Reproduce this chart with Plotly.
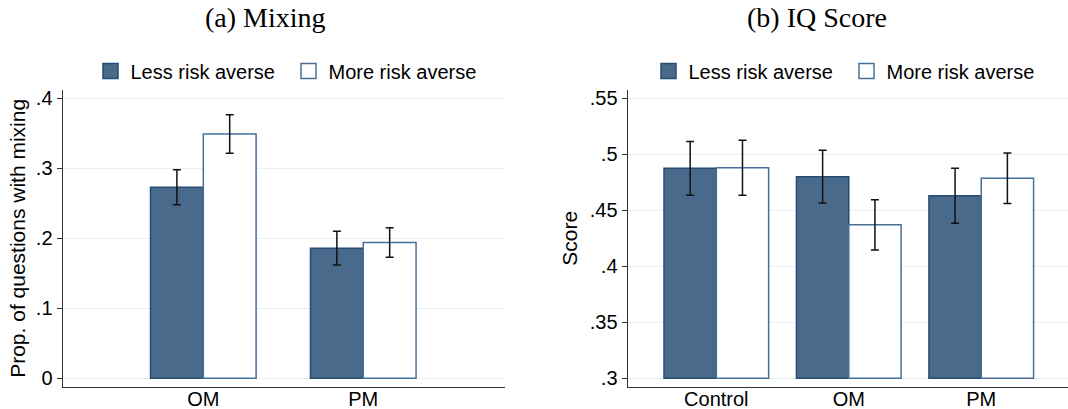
import plotly.graph_objects as go

# ---- Panel (a): share of questions answered with mixing ----
categories_a = ["OM", "PM"]
less_a = [0.273, 0.186]
less_a_err = [0.025, 0.024]
more_a = [0.349, 0.194]
more_a_err = [0.0275, 0.021]

# ---- Panel (b): IQ score ----
categories_b = ["Control", "OM", "PM"]
less_b = [0.4875, 0.480, 0.463]
less_b_err = [0.024, 0.0235, 0.0245]
more_b = [0.488, 0.437, 0.4786]
more_b_err = [0.0245, 0.0225, 0.0225]

base_a = 0.0
base_b = 0.3

series_names = ["Less risk averse", "More risk averse"]

DARK_FILL = "#4a6a8b"
DARK_LINE = "#244d75"
LIGHT_LINE = "#46709a"
GRID = "#e6eff1"
AXIS = "#333333"
SANS = "Liberation Sans, Arial, sans-serif"
SERIF = "Liberation Serif, Times New Roman, serif"

W = 1068
H = 409

fig = go.Figure()

styles = [
    dict(fill=DARK_FILL, line=DARK_LINE),
    dict(fill="white", line=LIGHT_LINE),
]


def add_pair(cats, less, less_err, more, more_err, base, width, xa, ya, legend):
    for k, (vals, errs, off) in enumerate([(less, less_err, -width), (more, more_err, 0)]):
        st = styles[k]
        fig.add_trace(go.Bar(
            x=cats, y=[v - base for v in vals], base=base,
            width=width, offset=off,
            name=series_names[k], showlegend=False,
            marker=dict(color=st["fill"], line=dict(color=st["line"], width=1.5)),
            error_y=dict(type="data", array=errs, color="#111111", thickness=1.5, width=4),
            xaxis=xa, yaxis=ya,
        ))
    # legend keys drawn as square markers
    for k in range(2):
        st = styles[k]
        fig.add_trace(go.Scatter(
            x=[None], y=[None], mode="markers", name=series_names[k], legend=legend,
            marker=dict(symbol="square", size=15, color=st["fill"],
                        line=dict(color=st["line"], width=1.5)),
            xaxis=xa, yaxis=ya, hoverinfo="skip",
        ))


add_pair(categories_a, less_a, less_a_err, more_a, more_a_err, base_a, 0.33, "x", "y", "legend")
add_pair(categories_b, less_b, less_b_err, more_b, more_b_err, base_b, 0.395, "x2", "y2", "legend2")


def px_x(p):
    return p / W


def px_y(p):
    return 1 - p / H


y_dom = [px_y(386.7), px_y(90)]

common_x = dict(
    showline=True, linecolor=AXIS, linewidth=1.3, ticks="", showgrid=False,
    tickfont=dict(family=SANS, size=20, color="black"), zeroline=False,
    fixedrange=True, automargin=False, ticklabelstandoff=-6,
)
common_y = dict(
    showline=True, linecolor=AXIS, linewidth=1.3, ticks="outside", ticklen=5,
    tickcolor=AXIS, tickwidth=1.3, showgrid=True, gridcolor=GRID, gridwidth=1,
    tickfont=dict(family=SANS, size=20, color="black"), zeroline=False,
    fixedrange=True, automargin=False,
)

legend_common = dict(
    orientation="h", xanchor="left", yanchor="middle", y=px_y(71),
    font=dict(family=SANS, size=20, color="black"), bgcolor="rgba(0,0,0,0)",
    itemclick=False, itemdoubleclick=False, entrywidth=153, entrywidthmode="pixels",
)

fig.update_layout(
    width=W, height=H,
    margin=dict(l=0, r=0, t=0, b=0),
    paper_bgcolor="white", plot_bgcolor="white",
    barmode="overlay",
    font=dict(family=SANS, size=20, color="black"),
    xaxis=dict(common_x, domain=[px_x(62.7), px_x(505)], range=[-0.879, 1.886], anchor="y"),
    yaxis=dict(common_y, domain=y_dom, range=[-0.012, 0.412], anchor="x",
               tickvals=[0, 0.1, 0.2, 0.3, 0.4], ticktext=["0", ".1", ".2", ".3", ".4"],
               title=dict(text="Prop. of questions with mixing", standoff=4,
                          font=dict(family=SANS, size=21, color="black"))),
    xaxis2=dict(common_x, domain=[px_x(627.7), 1.0], range=[-0.669, 2.655], anchor="y2"),
    yaxis2=dict(common_y, domain=y_dom, range=[0.2925, 0.5574], anchor="x2",
                tickvals=[0.3, 0.35, 0.4, 0.45, 0.5, 0.55],
                ticktext=[".3", ".35", ".4", ".45", ".5", ".55"],
                title=dict(text="Score", standoff=6,
                           font=dict(family=SANS, size=21, color="black"))),
    legend=dict(legend_common, x=px_x(90.5)),
    legend2=dict(legend_common, x=px_x(648.5)),
    annotations=[
        dict(text="(a) Mixing", x=px_x(265.5), y=px_y(18), xref="paper", yref="paper",
             xanchor="center", yanchor="middle", showarrow=False,
             font=dict(family=SERIF, size=28, color="black")),
        dict(text="(b) IQ Score", x=px_x(817), y=px_y(18), xref="paper", yref="paper",
             xanchor="center", yanchor="middle", showarrow=False,
             font=dict(family=SERIF, size=28, color="black")),
    ],
)

fig.write_html("out.html")
